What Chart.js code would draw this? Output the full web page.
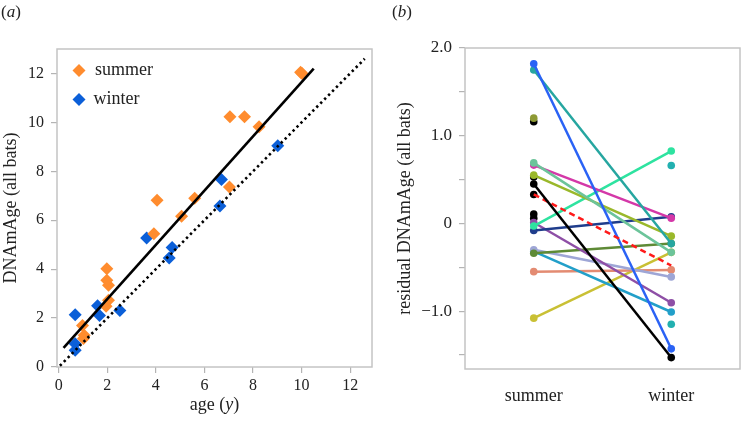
<!DOCTYPE html>
<html>
<head>
<meta charset="utf-8">
<script src="https://cdn.jsdelivr.net/npm/chart.js@4/dist/chart.umd.min.js"></script>
<style>
  html, body { margin: 0; padding: 0; background: #fff; }
  #wrap { position: relative; width: 744px; height: 422px; font-family: "Liberation Serif", "DejaVu Serif", serif; }
  .panel { position: absolute; top: 0; height: 422px; }
  .tag { position: absolute; top: 2px; font-size: 17px; color: #222; }
</style>
</head>
<body>
<div id="wrap">
  <div class="panel" style="left:0;width:380px"><canvas id="ageChart"></canvas></div>
  <div class="panel" style="left:380px;width:364px"><canvas id="residChart"></canvas></div>
  <span class="tag" style="left:1px">(<i>a</i>)</span>
  <span class="tag" style="left:392px">(<i>b</i>)</span>
</div>
<script>
// panel (a): chronological age vs DNAmAge
const summerAge  = [0.98, 1.05, 1.02, 1.95, 2.05, 2.05, 1.98, 1.98, 3.92, 4.05, 5.06, 5.6, 7.03, 7.05, 7.65, 8.25, 9.96, 10.02];
const summerDNAm = [1.7, 1.3, 1.16, 2.48, 2.73, 3.34, 3.55, 4.02, 5.45, 6.82, 6.16, 6.9, 7.36, 10.23, 10.23, 9.82, 12.05, 12.0];
const winterAge  = [0.68, 0.68, 0.68, 1.6, 1.68, 2.52, 3.62, 4.55, 4.67, 6.64, 6.7, 9.02];
const winterDNAm = [2.14, 0.95, 0.68, 2.5, 2.11, 2.31, 5.27, 4.46, 4.89, 6.58, 7.67, 9.04];
const fitX = [0.2, 10.5];
const fitY = [0.78, 12.2];
const identityX = [0.05, 12.6];
const ageTicks = [0, 2, 4, 6, 8, 10, 12];

// panel (b): residuals per bat, summer -> winter
const seasons = ['summer', 'winter'];
const pairSummer = [1.82, 1.75, 0.69, 0.665, 0.55, 0.45, -0.03, -0.08, 0.01, -0.34, -0.30, -0.32, -0.55, -1.08];
const pairWinter = [-1.43, -0.23, -0.33, 0.06, -0.145, -1.53, 0.825, 0.075, -0.905, -0.23, -0.61, -1.01, -0.53, -0.33];
const pairColors = ['#2a62f5', '#26a6a0', '#6cc49a', '#d438a8', '#9ab82a', '#000000', '#2ee3a0',
                    '#1f3d8c', '#8e4fa6', '#5e8a36', '#9ea6d6', '#229fc9', '#e38b72', '#c9c034'];
const loneSummer = [1.2, 1.16, 0.53, 0.33, 0.106, 0.06];
const loneSummerColors = ['#8e9a35', '#000000', '#000000', '#000000', '#000000', '#000000'];
const loneWinter = [0.66, -1.15];
const loneWinterColors = ['#22b0b0', '#22b0b0'];
const meanResid = [0.33, -0.48];
const residTicks = [-1.5, -1, -0.5, 0, 0.5, 1, 1.5, 2];

const serif = '"Liberation Serif", "DejaVu Serif", serif';
const ink = '#222';

function toPoints(xs, ys) {
    return xs.map(function (x, i) { return {x: x, y: ys[i]}; });
}

const boxPlugin = {
    id: 'box',
    beforeDatasetsDraw(chart) {
        const a = chart.chartArea, ctx = chart.ctx;
        ctx.save();
        ctx.strokeStyle = '#c4c4c4';
        ctx.lineWidth = 1.5;
        ctx.strokeRect(a.left, a.top, a.right - a.left, a.bottom - a.top);
        ctx.restore();
    }
};

const ageExtras = {
    id: 'ageExtras',
    afterDraw(chart) {
        const a = chart.chartArea, ctx = chart.ctx;
        ctx.save();
        // legend inside the plot
        const items = [['summer', '#ff8c2e'], ['winter', '#0b5fd8']];
        items.forEach(function (it, i) {
            const y = a.top + 21.5 + i * 29;
            ctx.fillStyle = it[1];
            Chart.helpers.drawPoint(ctx, {pointStyle: 'rectRot', radius: 6.5, borderWidth: 0}, a.left + 22, y);
            ctx.fillStyle = ink;
            ctx.font = '18px ' + serif;
            ctx.textBaseline = 'middle';
            ctx.textAlign = 'left';
            ctx.fillText(it[0], a.left + 38 - (i ? 1.5 : 0), y);
        });
        // x title with italic y
        const parts = [['age (', ''], ['y', 'italic '], [')', '']];
        let total = 0;
        parts.forEach(function (p) { ctx.font = p[1] + '18px ' + serif; total += ctx.measureText(p[0]).width; });
        let x = (a.left + a.right) / 2 - total / 2;
        ctx.textBaseline = 'middle';
        ctx.textAlign = 'left';
        ctx.fillStyle = ink;
        parts.forEach(function (p) {
            ctx.font = p[1] + '18px ' + serif;
            ctx.fillText(p[0], x, 405);
            x += ctx.measureText(p[0]).width;
        });
        ctx.restore();
    }
};

const axisTick = {display: true, drawOnChartArea: false, drawTicks: true, tickLength: 6, color: '#b4b4b4', lineWidth: 1.2};

new Chart(document.getElementById('ageChart'), {
    type: 'scatter',
    data: {
        datasets: [
            {label: 'fit', type: 'line', data: toPoints(fitX, fitY), borderColor: '#000', borderWidth: 2.6,
             pointRadius: 0, fill: false, order: 0},
            {label: 'identity', type: 'line', data: toPoints(identityX, identityX), borderColor: '#000', borderWidth: 2.6,
             borderDash: [2.4, 3.2], borderCapStyle: 'butt', pointRadius: 0, fill: false, order: 0},
            {label: 'summer', data: toPoints(summerAge, summerDNAm), backgroundColor: '#ff8c2e', borderWidth: 0,
             pointStyle: 'rectRot', pointRadius: 6.5, order: 1},
            {label: 'winter', data: toPoints(winterAge, winterDNAm), backgroundColor: '#0b5fd8', borderWidth: 0,
             pointStyle: 'rectRot', pointRadius: 6.5, order: 2}
        ]
    },
    options: {
        responsive: true,
        maintainAspectRatio: false,
        animation: false,
        layout: {padding: {left: 0, right: 8, top: 49, bottom: 0}},
        plugins: {legend: {display: false}, tooltip: {enabled: false}},
        scales: {
            x: {
                type: 'linear', min: -0.07, max: 12.9,
                afterBuildTicks: function (s) { s.ticks = ageTicks.map(function (v) { return {value: v}; }); },
                afterFit: function (s) { s.height = 55; },
                grid: axisTick,
                border: {display: false},
                ticks: {color: ink, padding: 3, maxRotation: 0, font: {family: serif, size: 16}}
            },
            y: {
                type: 'linear', min: 0, max: 13,
                afterBuildTicks: function (s) { s.ticks = ageTicks.map(function (v) { return {value: v}; }); },
                afterFit: function (s) { s.width = 57; },
                grid: axisTick,
                border: {display: false},
                ticks: {color: ink, padding: 7, font: {family: serif, size: 16}},
                title: {display: true, text: 'DNAmAge (all bats)', color: ink, padding: {top: 0, bottom: 0},
                        font: {family: serif, size: 18}}
            }
        }
    },
    plugins: [boxPlugin, ageExtras]
});

const residSets = [];
pairSummer.forEach(function (v, i) {
    residSets.push({data: [{x: 'summer', y: v}, {x: 'winter', y: pairWinter[i]}],
                    borderColor: pairColors[i], backgroundColor: pairColors[i], borderWidth: 2.5,
                    pointRadius: 3.8, pointBorderWidth: 0, order: i === 5 ? 0 : 2});
});
loneSummer.forEach(function (v, i) {
    residSets.push({data: [{x: 'summer', y: v}], showLine: false, backgroundColor: loneSummerColors[i],
                    borderColor: loneSummerColors[i], pointRadius: 3.8, pointBorderWidth: 0, order: 3});
});
loneWinter.forEach(function (v, i) {
    residSets.push({data: [{x: 'winter', y: v}], showLine: false, backgroundColor: loneWinterColors[i],
                    borderColor: loneWinterColors[i], pointRadius: 3.8, pointBorderWidth: 0, order: 3});
});
residSets.push({data: [{x: 'summer', y: meanResid[0]}, {x: 'winter', y: meanResid[1]}], borderColor: '#ff1a1a',
                borderWidth: 2.5, borderDash: [6, 4], pointRadius: 0, order: 1});

new Chart(document.getElementById('residChart'), {
    type: 'line',
    data: {labels: seasons, datasets: residSets},
    options: {
        responsive: true,
        maintainAspectRatio: false,
        animation: false,
        layout: {padding: {left: 0, right: 1, top: 48, bottom: 0}},
        plugins: {legend: {display: false}, tooltip: {enabled: false}},
        scales: {
            x: {
                type: 'category', offset: true,
                afterFit: function (s) { s.height = 53; },
                grid: {display: false},
                border: {display: false},
                ticks: {color: ink, padding: 8, font: {family: serif, size: 18}}
            },
            y: {
                type: 'linear', min: -1.66, max: 2.0,
                afterBuildTicks: function (s) { s.ticks = residTicks.map(function (v) { return {value: v}; }); },
                afterFit: function (s) { s.width = 85; },
                grid: axisTick,
                border: {display: false},
                ticks: {
                    color: ink, padding: 7, font: {family: serif, size: 17},
                    callback: function (v) {
                        if (v % 1 !== 0) return '';
                        if (v === 0) return '0';
                        return (v < 0 ? '\u2212' : '') + Math.abs(v).toFixed(1);
                    }
                },
                title: {display: true, text: 'residual DNAmAge (all bats)', color: ink, padding: {top: 14, bottom: 0},
                        font: {family: serif, size: 18}}
            }
        }
    },
    plugins: [boxPlugin]
});
</script>
</body>
</html>
